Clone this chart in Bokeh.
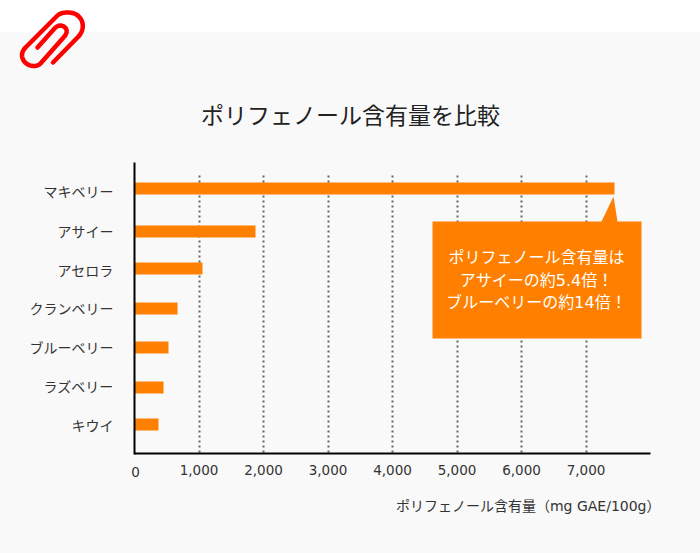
from bokeh.embed import file_html
from bokeh.resources import INLINE
from bokeh.plotting import figure
from bokeh.models import (Range1d, FixedTicker, PolyAnnotation, Label, NumeralTickFormatter,
                          ColumnDataSource)

categories = ["マキベリー", "アサイー", "アセロラ", "クランベリー", "ブルーベリー", "ラズベリー", "キウイ"]
polyphenol = [7442, 1876, 1054, 667, 527, 450, 372]
x_ticks = [0, 1000, 2000, 3000, 4000, 5000, 6000, 7000]
title_text = "ポリフェノール含有量を比較"
x_label = "ポリフェノール含有量（mg GAE/100g）"
callout_lines = ["ポリフェノール含有量は", "アサイーの約5.4倍！", "ブルーベリーの約14倍！"]

# Layout: the frame fills the canvas, so the y scale is simply in pixels, and the rows are
# where the original rounded them. The x scale puts 0 at pixel 134 and 8,000 at pixel 650.
W, H = 700, 553
ROW_Y = [188, 231, 268, 308, 347, 387, 424]
LABEL_Y = [190, 230, 269, 307, 346, 385, 424]
PX_PER_UNIT = (650 - 134) / 8000
ORANGE = "#ff8000"
JP = "Noto Sans CJK JP"
LATIN = "DejaVu Sans, Noto Sans CJK JP"


def px_to_x(px):
    return (px - 134) / PX_PER_UNIT


p = figure(width=W, height=H, output_backend="svg", toolbar_location=None,
           x_range=Range1d(px_to_x(0), px_to_x(W)), y_range=Range1d(H, 0),
           min_border=0, background_fill_color=None, border_fill_color=None, outline_line_color=None)

src = ColumnDataSource(dict(y=ROW_Y, v=polyphenol))
p.hbar(y="y", left=0, right="v", height=12, source=src, color=ORANGE, line_color=None)

xa = p.xaxis[0]
xa.fixed_location = 453
xa.bounds = (0, 8000)
xa.ticker = FixedTicker(ticks=x_ticks)
xa.formatter = NumeralTickFormatter(format="0,0")
xa.major_label_overrides = {0: ""}
xa.axis_line_color = "#000000"
xa.axis_line_width = 2
xa.major_tick_line_color = None
xa.minor_tick_line_color = None
xa.major_label_standoff = 5
xa.major_label_text_font = LATIN
xa.major_label_text_font_size = "13.5px"
xa.major_label_text_color = "#333333"

ya = p.yaxis[0]
ya.fixed_location = 0
ya.bounds = (162, 454)
ya.ticker = FixedTicker(ticks=LABEL_Y)
ya.major_label_overrides = {y: c for y, c in zip(LABEL_Y, categories)}
ya.axis_line_color = "#000000"
ya.axis_line_width = 2
ya.major_tick_line_color = None
ya.minor_tick_line_color = None
ya.major_label_standoff = 15
ya.major_label_text_font = JP
ya.major_label_text_font_size = "14px"
ya.major_label_text_color = "#333333"

p.ygrid.grid_line_color = None
g = p.xgrid[0]
g.ticker = FixedTicker(ticks=x_ticks[1:])
g.grid_line_color = "#666666"
g.grid_line_width = 2
g.grid_line_dash = "2 3"
g.cross_bounds = (175, 452)


def bez(p0, p1, p2, p3, n=14):
    out = []
    for i in range(n + 1):
        t = i / n
        u = 1 - t
        out.append((u**3 * p0[0] + 3 * u * u * t * p1[0] + 3 * u * t * t * p2[0] + t**3 * p3[0],
                    u**3 * p0[1] + 3 * u * u * t * p1[1] + 3 * u * t * t * p2[1] + t**3 * p3[1]))
    return out


clip = [(52.5, 62)]
clip += bez((78, 36), (87, 26), (81, 12), (68, 12))
clip += bez((68, 12), (63, 12), (60, 12.5), (57, 15), 4)
clip += bez((25, 47), (17, 55), (24, 65.5), (33, 65.5))
clip += bez((33, 65.5), (36, 65.5), (38, 65), (40, 63), 4)
clip += bez((63, 37), (70, 30), (64, 25), (60, 25), 8)
clip += bez((60, 25), (58, 25), (56, 26), (54, 28), 3)
clip += [(37, 47)]
p.line([px_to_x(q[0]) for q in clip], [q[1] for q in clip], line_color="#ff0000", line_width=4.5,
       line_join="round", line_cap="round")

box = [(432, 221), (601, 221), (613, 196), (617, 221), (641, 221), (641, 338), (432, 338)]
p.add_layout(PolyAnnotation(xs=[x for x, _ in box], ys=[y for _, y in box],
                            xs_units="canvas", ys_units="canvas", fill_color=ORANGE, fill_alpha=1,
                            line_color=None))
for line, ly in zip(callout_lines, [257, 280, 302]):
    p.add_layout(Label(x=536, y=ly, x_units="canvas", y_units="canvas", text=line,
                       text_font=LATIN, text_font_size="16px", text_color="#ffffff",
                       text_align="center", text_baseline="middle"))

p.add_layout(Label(x=350, y=113, x_units="canvas", y_units="canvas", text=title_text,
                   text_font=JP, text_font_size="23px", text_color="#222222",
                   text_align="center", text_baseline="middle"))
p.add_layout(Label(x=660, y=505, x_units="canvas", y_units="canvas", text=x_label,
                   text_font=LATIN, text_font_size="14px", text_color="#333333",
                   text_align="right", text_baseline="middle"))
p.add_layout(Label(x=135, y=471, x_units="canvas", y_units="canvas", text="0",
                   text_font=LATIN, text_font_size="13.5px", text_color="#333333",
                   text_align="center", text_baseline="middle"))

template = """{% block inner_head %}
<style>html { background: linear-gradient(#ffffff 32px, #f9f9f9 32px) no-repeat; background-color:#f9f9f9; }</style>
{{ super() }}
{% endblock %}"""

open("out.html", "w").write(file_html(p, INLINE, template=template))
